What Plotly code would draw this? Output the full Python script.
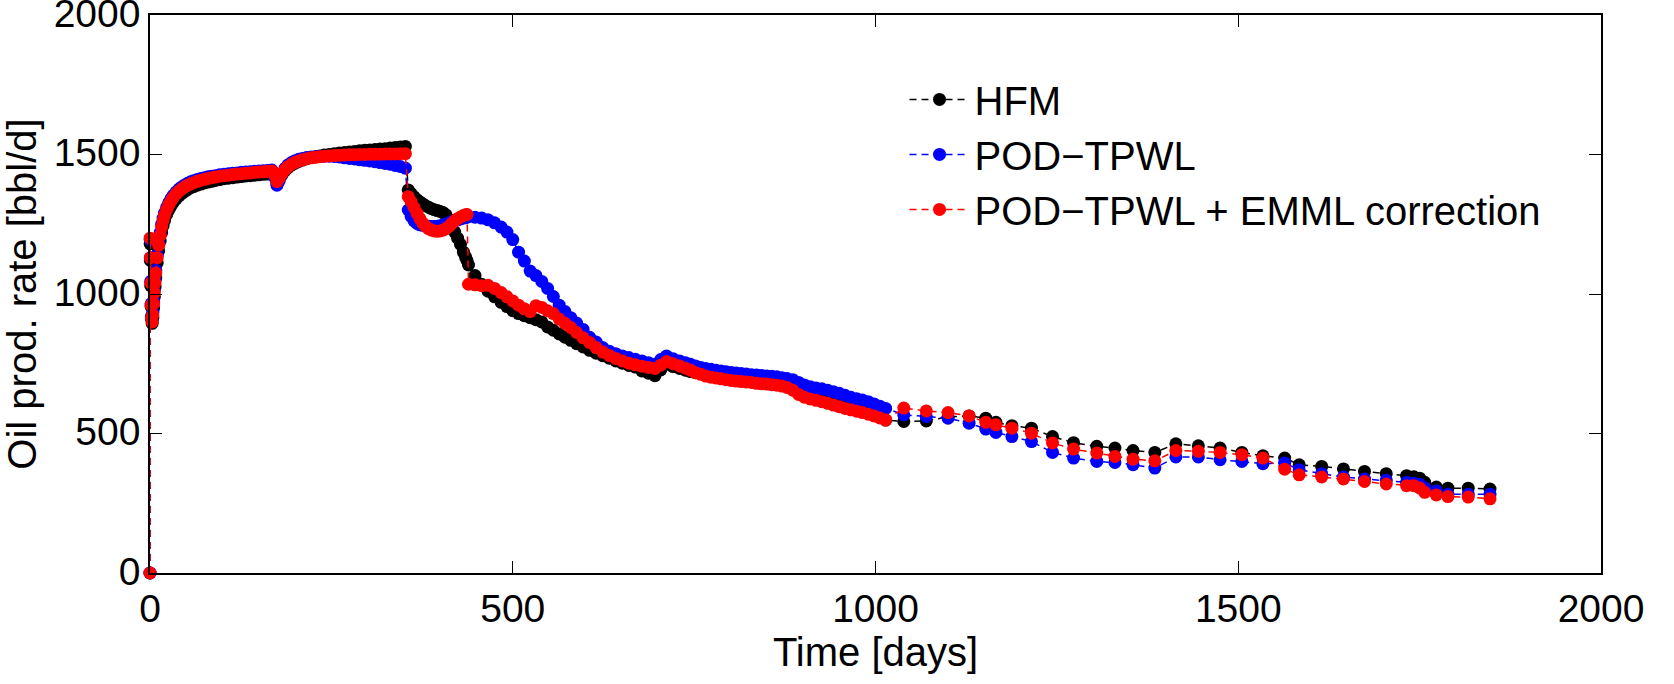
import plotly.graph_objects as go

# ---------------- data ----------------
days = [
    0, 0.2, 0.5, 1, 1.5, 2, 3, 4, 5, 6, 7, 8, 10, 12, 14, 16, 18, 20, 23, 26, 29, 32, 36, 40, 44, 48,
    52, 56, 60, 65, 70, 75, 80, 85, 90, 96, 102, 108, 114, 120, 126, 132, 138, 144, 150, 156, 162, 168,
    172, 175, 178, 182, 186, 190, 195, 200, 205, 210, 216, 222, 228, 234, 240, 247, 254, 261, 268, 275,
    282, 289, 296, 303, 310, 317, 324, 331, 338, 345, 352,
    356, 360, 364, 368, 372, 376, 380, 384, 388, 392, 396, 400, 404, 408, 412, 416, 420, 424, 428, 432,
    435, 437, 439, 448, 457, 466, 475, 484, 492, 500, 508, 516, 524, 532, 540, 548, 556, 564, 572, 580,
    588, 597, 606, 615, 624, 633, 642, 651, 660, 669, 678, 687, 696, 704, 712, 721, 730, 738,
    745, 752, 759, 766, 773, 780, 787, 794, 801, 808, 815, 822, 829, 836, 843, 850, 857, 864, 871, 878,
    886, 894, 902, 910, 918, 926, 934, 942, 950, 958, 966, 974, 982, 990, 998, 1006, 1014,
    1039, 1070, 1100, 1129, 1152, 1166, 1188, 1215, 1244, 1273, 1305, 1330, 1355, 1385, 1414, 1445,
    1475, 1505, 1534, 1564, 1584, 1615, 1645, 1674, 1704, 1732, 1742, 1750, 1757, 1773, 1789, 1817, 1847,
]

hfm = [
    0, 1180, 1120, 1030, 955, 910, 895, 915, 950, 990, 1025, 1058, 1112, 1155, 1190, 1220, 1244, 1263,
    1285, 1302, 1316, 1328, 1341, 1352, 1361, 1368, 1375, 1381, 1385, 1390, 1394, 1398, 1401, 1404, 1407,
    1410, 1413, 1415, 1417, 1419, 1421, 1423, 1424, 1426, 1427, 1429, 1430, 1432,
    1420, 1398, 1410, 1428, 1442, 1452, 1462, 1469, 1475, 1480, 1485, 1489, 1492, 1495, 1498, 1500, 1503,
    1505, 1507, 1509, 1511, 1513, 1515, 1516, 1518, 1520, 1521, 1523, 1525, 1527, 1529,
    1373, 1360, 1348, 1338, 1330, 1323, 1316, 1311, 1306, 1302, 1299, 1296, 1292, 1284, 1268, 1245, 1222,
    1200, 1178, 1150, 1132, 1120, 1104, 1066, 1035, 1010, 990, 970, 955, 940, 930, 922, 915, 908, 900,
    882, 870, 857, 845, 834, 822, 810, 798, 788, 779, 770, 760, 752, 744, 738, 724, 716, 707, 728, 748,
    740, 733, 727,
    722, 718, 718, 717, 716, 714, 712, 709, 706, 703, 701, 699, 697, 695, 693, 691, 689, 687, 684, 680,
    673, 660, 650, 643, 638, 633, 628, 622, 615, 608, 600, 594, 588, 580, 571, 560, 548,
    543, 545, 560, 563, 555, 540, 528, 519, 489, 467, 454, 448, 439, 432, 463, 456,
    448, 432, 420, 412, 388, 382, 373, 364, 356, 349, 345, 340, 325, 308, 304, 304, 301,
]

pod_tpwl = [
    0, 1195, 1130, 1045, 965, 920, 905, 935, 975, 1015, 1050, 1085, 1140, 1185, 1220, 1250, 1272, 1290,
    1311, 1328, 1342, 1354, 1366, 1376, 1384, 1391, 1397, 1402, 1406, 1410, 1414, 1417, 1420, 1422, 1424,
    1427, 1429, 1431, 1433, 1434, 1436, 1437, 1438, 1440, 1441, 1442, 1443, 1444,
    1418, 1390, 1405, 1430, 1450, 1462, 1471, 1478, 1483, 1486, 1489, 1491, 1492, 1493, 1494, 1494, 1493,
    1491, 1488, 1486, 1484, 1481, 1479, 1477, 1474, 1471, 1468, 1465, 1461, 1457, 1451,
    1301, 1278, 1262, 1253, 1248, 1246, 1244, 1243, 1242, 1242, 1243, 1245, 1248, 1251, 1255, 1259, 1262,
    1266, 1269, 1272, 1274, 1276, 1277, 1275, 1272, 1266, 1255, 1240, 1222, 1195, 1150, 1118, 1082, 1066,
    1045, 1020, 991, 960, 937, 915, 896, 873, 845, 828, 808, 795, 786, 778, 772, 766, 760, 754, 748, 765,
    778, 768, 760, 754,
    748, 742, 737, 733, 730, 727, 724, 721, 719, 717, 715, 713, 711, 710, 708, 706, 705, 703, 700, 697,
    693, 683, 674, 668, 663, 660, 655, 650, 644, 637, 630, 625, 620, 614, 606, 598, 590,
    567, 561, 555, 537, 516, 504, 489, 471, 432, 412, 400, 396, 388, 376, 416, 416,
    406, 400, 392, 394, 370, 356, 344, 337, 332, 325, 322, 318, 306, 294, 282, 282, 282,
]

pod_tpwl_emml = [
    0, 1200, 1130, 1040, 960, 915, 900, 925, 965, 1005, 1040, 1075, 1130, 1175, 1210, 1240, 1263, 1282,
    1303, 1320, 1334, 1346, 1359, 1369, 1377, 1384, 1390, 1395, 1399, 1404, 1408, 1411, 1414, 1417, 1419,
    1422, 1424, 1426, 1428, 1430, 1431, 1433, 1434, 1436, 1437, 1438, 1440, 1441,
    1425, 1403, 1415, 1432, 1446, 1456, 1465, 1472, 1477, 1481, 1485, 1488, 1490, 1492, 1494, 1495, 1496,
    1497, 1498, 1499, 1499, 1500, 1500, 1501, 1501, 1501, 1502, 1502, 1502, 1503, 1503,
    1349, 1330, 1310, 1290, 1270, 1254, 1242, 1234, 1229, 1226, 1225, 1226, 1229, 1234, 1242, 1252, 1262,
    1270, 1276, 1281, 1284, 1285, 1035, 1033, 1030, 1031, 1020, 1005, 990, 975, 960, 947, 937, 958, 952,
    940, 930, 910, 895, 880, 862, 843, 826, 808, 792, 780, 769, 760, 752, 746, 741, 737, 733, 745, 758,
    750, 742, 734,
    727, 718, 712, 706, 702, 699, 696, 693, 690, 688, 686, 685, 683, 680, 678, 677, 675, 673, 670, 665,
    655, 640, 630, 624, 619, 614, 608, 602, 596, 590, 585, 580, 575, 569, 563, 556, 548,
    591, 581, 575, 563, 540, 531, 519, 501, 466, 444, 430, 418, 408, 402, 439, 436,
    432, 424, 412, 372, 352, 344, 337, 328, 319, 313, 313, 305, 289, 280, 274, 272, 266,
]

series_names = ["HFM", "POD\u2212TPWL", "POD\u2212TPWL + EMML correction"]
series_colors = ["#000000", "#0000ff", "#ff0000"]
tick_values = [0, 500, 1000, 1500, 2000]

# ---------------- figure ----------------
FONT = "Liberation Sans, Arial, Helvetica, sans-serif"
fig = go.Figure()
for name, ys, col in zip(series_names, [hfm, pod_tpwl, pod_tpwl_emml], series_colors):
    fig.add_trace(go.Scatter(
        x=days, y=ys, name=name, mode="lines+markers",
        line=dict(color=col, width=1.5, dash="7px,5px"),
        marker=dict(color=col, size=13, line=dict(width=0)),
        cliponaxis=False,
    ))

axis_common = dict(
    range=[0, 2000], tickvals=tick_values, ticktext=[str(v) for v in tick_values],
    showline=True, linecolor="black", linewidth=1.5, mirror="ticks",
    ticks="inside", ticklen=12, tickwidth=1, tickcolor="black",
    showgrid=False, zeroline=False, ticklabeloverflow="allow", automargin=False,
    tickfont=dict(family=FONT, size=39, color="black"),
)

fig.update_layout(
    width=1674, height=684,
    margin=dict(l=150, r=73, t=15, b=111, autoexpand=False),
    paper_bgcolor="white", plot_bgcolor="white",
    font=dict(family=FONT, size=40, color="black"),
    xaxis=dict(**axis_common,
               title=dict(text="Time [days]", font=dict(family=FONT, size=40, color="black"), standoff=0)),
    yaxis=dict(**axis_common, ticklabelshift=-2,
               title=dict(text="Oil prod. rate [bbl/d]", font=dict(family=FONT, size=40, color="black"), standoff=12)),
    legend=dict(x=0.52, y=0.907, xanchor="left", yanchor="top",
                bgcolor="rgba(0,0,0,0)", borderwidth=0,
                font=dict(family=FONT, size=40, color="black"),
                itemwidth=60, tracegroupgap=0),
    showlegend=True,
)

fig.write_html("out.html")
